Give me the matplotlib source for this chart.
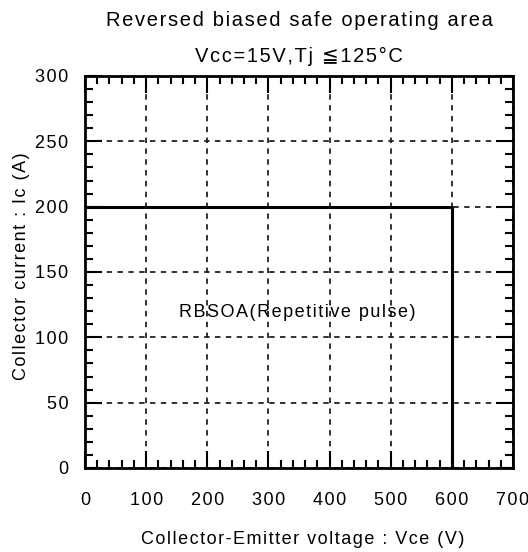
import matplotlib
matplotlib.use("Agg")
import matplotlib.pyplot as plt
from matplotlib.ticker import MultipleLocator

plt.rcParams['font.family'] = ['Liberation Sans', 'DejaVu Sans']

vce = [0, 600, 600]
ic = [200, 200, 0]
x_ticks = [0, 100, 200, 300, 400, 500, 600, 700]
y_ticks = [0, 50, 100, 150, 200, 250, 300]

SP = '\u200a'
def spaced(s):
    return SP.join(s)

fig = plt.figure(figsize=(5.28, 5.52), dpi=100)
ax = fig.add_axes([85/528, 1-468/552, (513-85)/528, (468-76)/552])
ax.set_xlim(0, 700)
ax.set_ylim(0, 300)
ax.set_xticks(x_ticks)
ax.set_yticks(y_ticks)
ax.set_xticklabels([spaced(str(v)) for v in x_ticks])
ax.set_yticklabels([spaced(str(v)) for v in y_ticks])
ax.xaxis.set_minor_locator(MultipleLocator(20))
ax.yaxis.set_minor_locator(MultipleLocator(10))
ax.tick_params(which='both', direction='in', top=True, right=True, labelsize=13, width=1.5, color='black')
ax.tick_params(which='major', length=12)
ax.tick_params(which='minor', length=6)
ax.tick_params(axis='x', pad=17)
ax.tick_params(axis='y', pad=12)
ax.grid(True, which='major', linestyle=(0, (3, 3)), color='#222222', linewidth=1.3)
for s in ax.spines.values():
    s.set_linewidth(2)
ax.plot(vce, ic, color='black', linewidth=2.2, solid_capstyle='butt')
ax.text(347, 119, spaced('RBSOA(Repetitive pulse)'), ha='center', va='center', fontsize=13)
ax.set_xlabel(spaced('Collector-Emitter voltage : Vce (V)'), fontsize=13, labelpad=16, x=0.509)
ax.set_ylabel(spaced('Collector current : Ic (A)'), fontsize=13, labelpad=4, y=0.515)
ax.set_title(spaced('Reversed biased safe operating area') + '\n' + spaced('Vcc=15V,Tj \u2266125\u00b0C'),
             fontsize=14.5, pad=10, linespacing=2.1)
fig.savefig('out.png', dpi=100, facecolor='white')
